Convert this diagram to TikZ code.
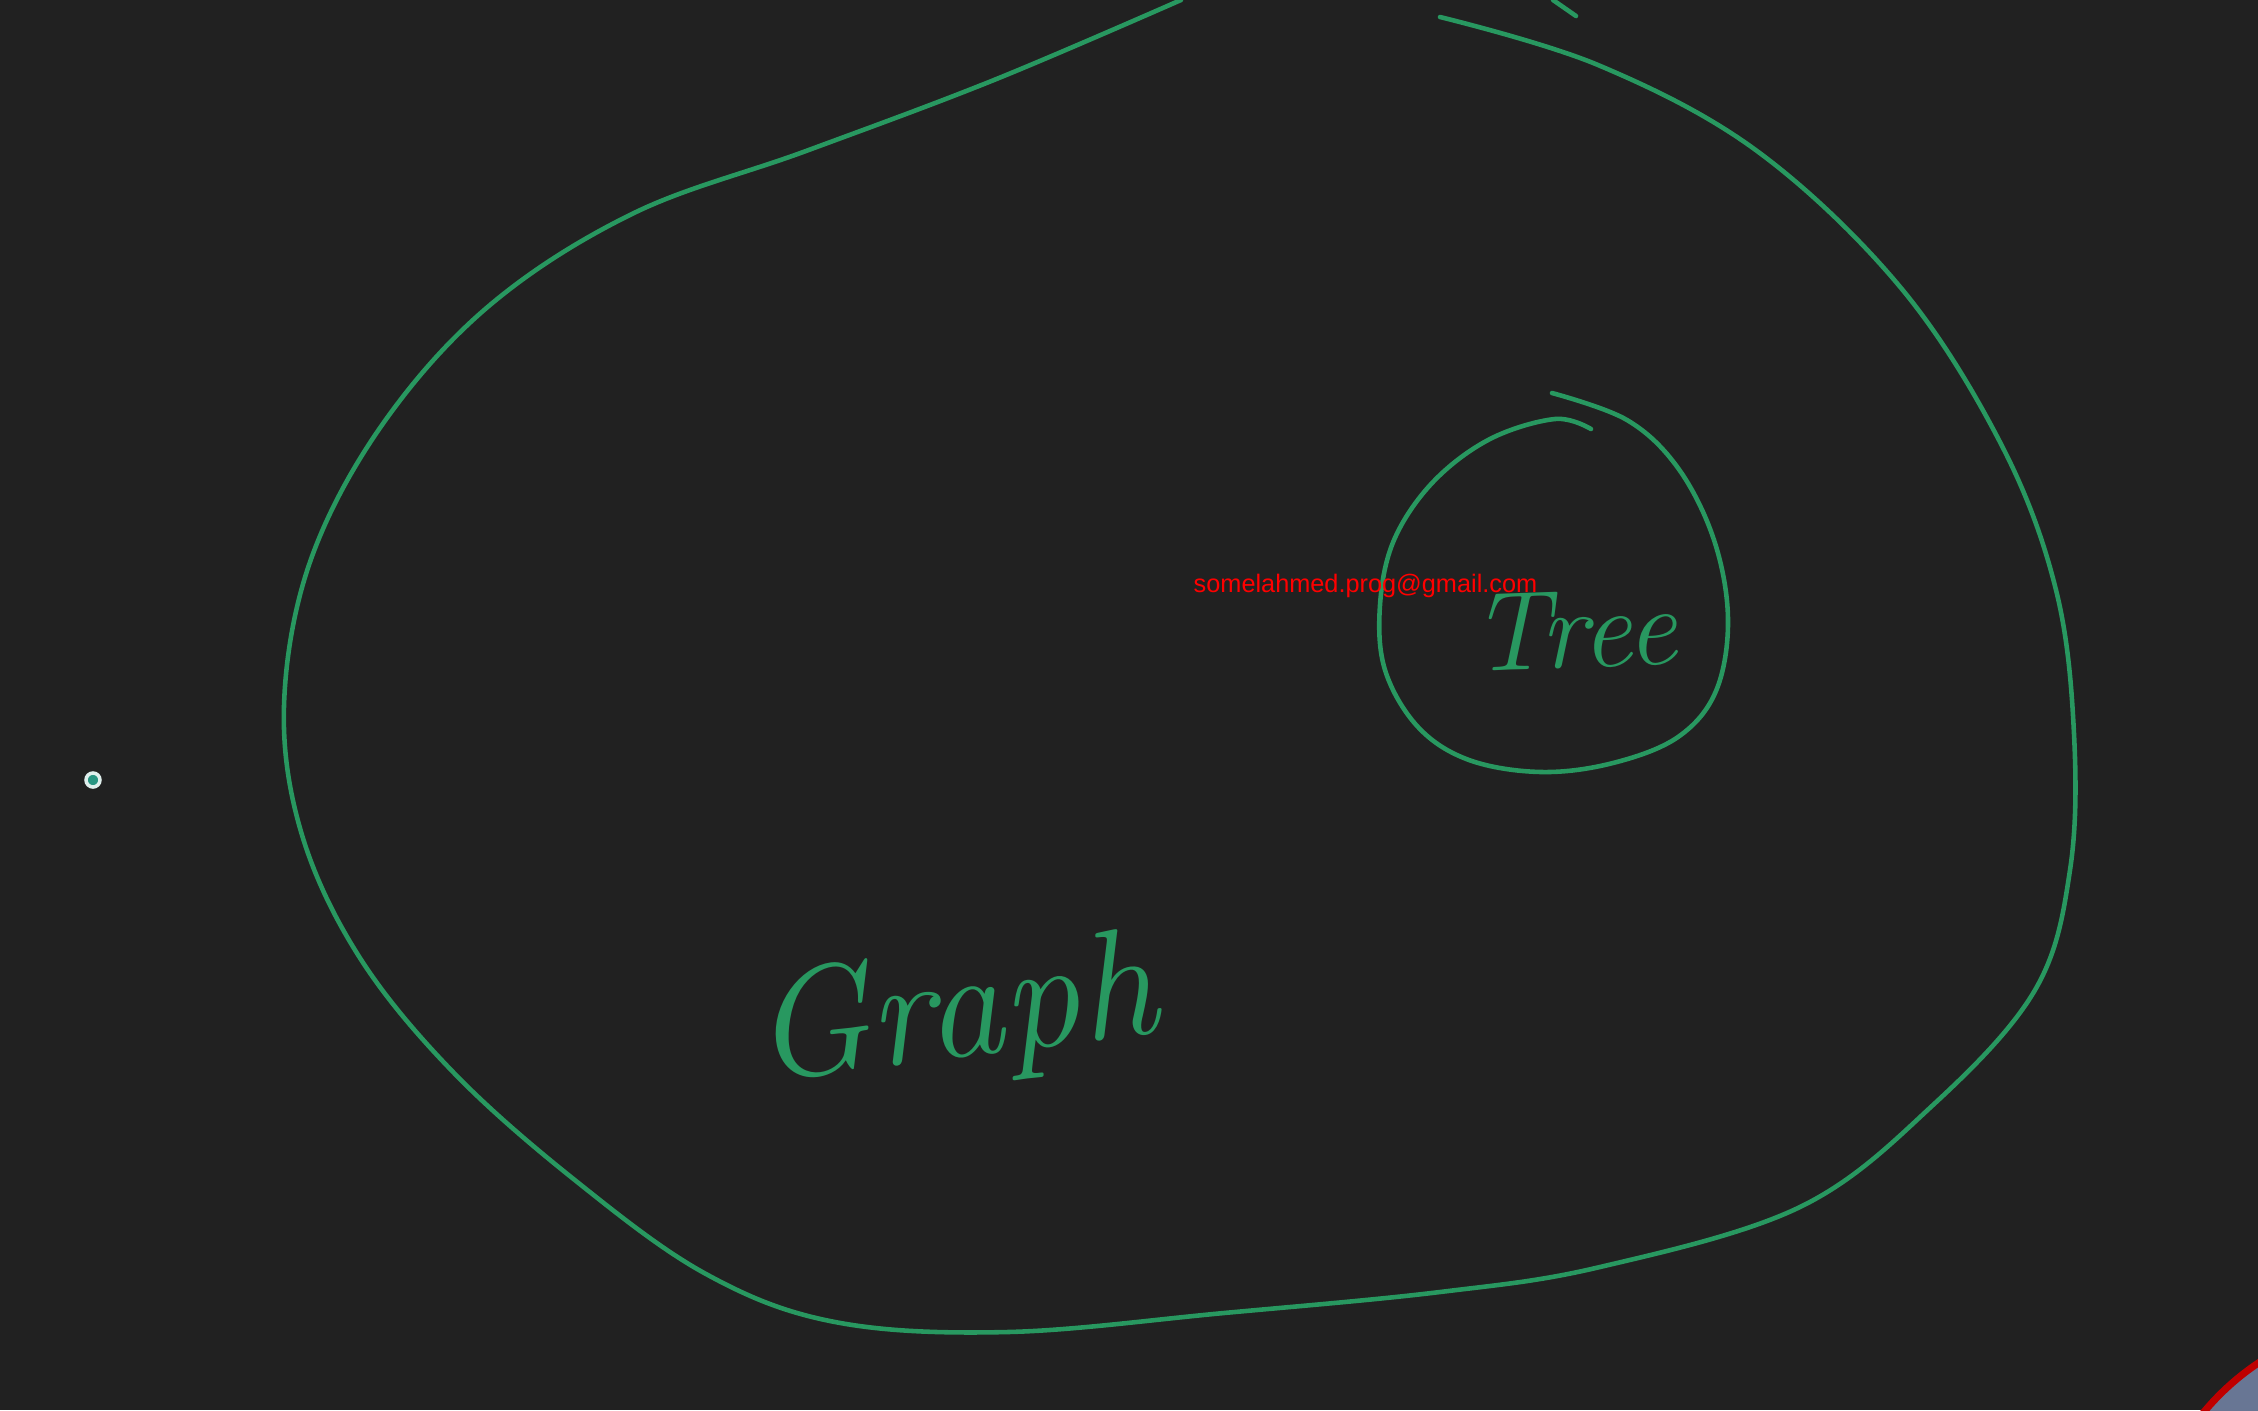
\documentclass[tikz,border=0pt]{standalone}
\usepackage{fontspec}
\newfontfamily\markfont{Liberation Sans}
\definecolor{board}{RGB}{33,33,33}
\definecolor{chalk}{RGB}{40,152,96}
\definecolor{camfill}{RGB}{104,118,148}
\definecolor{dotcol}{RGB}{40,150,130}
\begin{document}
\begin{tikzpicture}[x=0.1mm,y=-0.1mm,
    stroke/.style={chalk,line width=1.3pt,line cap=round,line join=round},
    hand/.style={chalk,inner sep=0pt,font=\itshape}]
\useasboundingbox (0,0) rectangle (2258,1410);
\fill[board] (0,0) rectangle (2258,1410);
\clip (0,0) rectangle (2258,1410);
% the big graph blob
\draw[stroke] plot[smooth,tension=0.6] coordinates {
    (1181,0) (994,80) (806,151) (634,213) (490,305) (382,425) (310,562)
    (284,706) (302,835) (360,958) (454,1073) (576,1181) (706,1274)
    (835,1322) (1008,1332) (1224,1313) (1440,1292) (1600,1267) (1800,1207)
    (1933,1105) (2035,990) (2070,870) (2074,734) (2056,590)
    (2002,446) (1901,288) (1757,151) (1598,65) (1440,17)};
\draw[stroke] (1553,0) -- (1576,16);
% the tree circle
\draw[stroke] plot[smooth,tension=0.6] coordinates {
    (1552,393) (1627,420) (1678,468) (1714,540) (1728,619) (1716,691)
    (1678,737) (1613,763) (1541,772) (1469,760) (1418,727) (1385,670)
    (1380,605) (1394,540) (1433,482) (1490,439) (1555,419) (1591,429)};
\begin{scope}[every node/.style={hand}]
    \node (graph) at (955,1018) [rotate=7] {\fontsize{44}{50}\selectfont Graph};
    \node (tree) at (1573,630) [rotate=2] {\fontsize{32}{36}\selectfont Tree};
\end{scope}
\node (mail) at (1193,592) [anchor=base west,inner sep=0pt,red,font=\markfont\fontsize{7.2}{8}\selectfont] {somelahmed.prog@gmail.com};
\node (dot) at (93,780) [circle,draw=white!85!dotcol,fill=dotcol,line width=1pt,inner sep=0pt,minimum size=1.4mm] {};
% webcam corner
\draw[red!75!black,line width=2pt,fill=camfill] (2400,1575) circle (25.5mm);
\end{tikzpicture}
\end{document}
